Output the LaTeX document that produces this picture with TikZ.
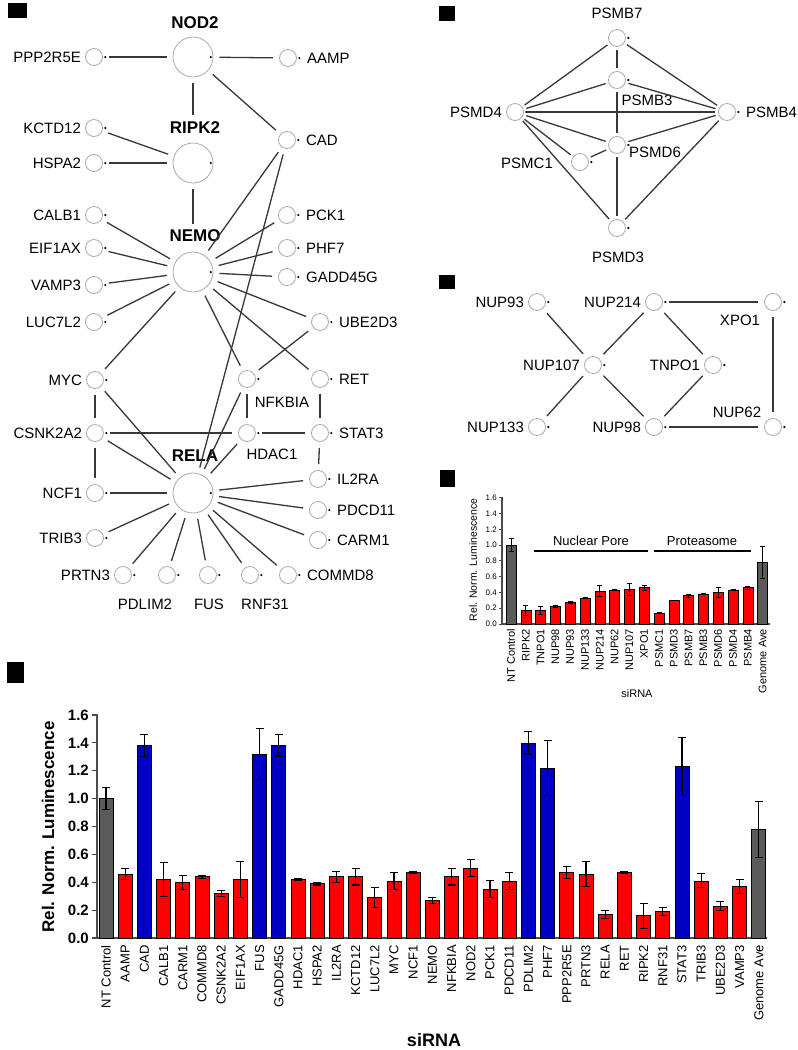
\documentclass[tikz,border=0pt]{standalone}
\usepackage{fontspec}
\setmainfont{Liberation Sans}
\usetikzlibrary{positioning,calc}
\definecolor{ring-gray}{HTML}{ABABAB}
\definecolor{edge-dark}{HTML}{383838}
\definecolor{bar-red}{HTML}{FF0000}
\definecolor{bar-blue}{HTML}{0000C4}
\definecolor{bar-gray}{HTML}{5A5A5A}
\tikzset{
  dot-mark/.style={circle, fill=black, inner sep=0pt, minimum size=2.4pt},
  hub-node/.style={circle, draw=ring-gray, line width=0.8pt, minimum size=40pt, inner sep=0pt,
    label={[dot-mark, label distance=-4pt]east:}},
  gene-node/.style={circle, draw=ring-gray, line width=0.8pt, minimum size=17pt, inner sep=0pt,
    label={[dot-mark, label distance=1pt]east:}},
  gene-label/.style={font=\fontsize{15}{15}\selectfont, inner sep=1pt},
  hub-label/.style={font=\fontsize{17}{17}\selectfont\bfseries, inner sep=1pt},
  tag-left/.style={label={[gene-label, label distance=3pt]left:#1}},
  tag-right/.style={label={[gene-label, label distance=9pt]right:#1}},
  ppi-edge/.style={draw=edge-dark, line width=1.3pt, shorten <=6pt, shorten >=6pt},
  panel-mark/.style={fill=black},
  bar/.style={draw=black, line width=0.7pt},
  err-bar/.style={draw=black, line width=1.1pt},
  axis-line/.style={draw=black!70, line width=1.2pt},
  tick-big/.style={font=\fontsize{15}{15}\selectfont\bfseries, anchor=east, inner sep=1pt},
  bar-tag/.style={font=\fontsize{13}{13}\selectfont, rotate=90, anchor=east, inner sep=1pt},
  tick-small/.style={font=\fontsize{8}{8}\selectfont, anchor=east, inner sep=1pt},
  bar-tag-small/.style={font=\fontsize{11}{11}\selectfont, rotate=90, anchor=east, inner sep=1pt},
  group-line/.style={draw=black, line width=1.3pt}
}
\begin{document}
\begin{tikzpicture}[x=1pt, y=-1pt]
  \fill[white] (0,0) rectangle (798,1050);
  \useasboundingbox (0,0) rectangle (798,1050);

  % panel marks
  \fill[panel-mark] (8,3) rectangle (27,18);
  \fill[panel-mark] (439,6) rectangle (455,21);
  \fill[panel-mark] (439,275) rectangle (455,289);
  \fill[panel-mark] (440,470) rectangle (455,487);
  \fill[panel-mark] (7,662) rectangle (24,683);

  % NOD2 / NEMO / RELA network
  \node[hub-node] (NOD2) at (193,57) {};
  \node[hub-label] (NOD2-t) at (195,23) {NOD2};
  \node[gene-node, tag-left=PPP2R5E] (PPP2R5E) at (94,57) {};
  \node[gene-node, tag-right=AAMP] (AAMP) at (288,58) {};

  \node[hub-node] (RIPK2) at (193,163) {};
  \node[hub-label] (RIPK2-t) at (195,128) {RIPK2};
  \node[gene-node, tag-left=KCTD12] (KCTD12) at (94,128) {};
  \node[gene-node, tag-left=HSPA2] (HSPA2) at (94,163) {};
  \node[gene-node, tag-right=CAD] (CAD) at (287,140) {};

  \node[hub-node] (NEMO) at (193,272) {};
  \node[hub-label] (NEMO-t) at (195,236) {NEMO};
  \node[gene-node, tag-left=CALB1] (CALB1) at (94,215) {};
  \node[gene-node, tag-left=EIF1AX] (EIF1AX) at (94,248) {};
  \node[gene-node, tag-left=VAMP3] (VAMP3) at (94,285) {};
  \node[gene-node, tag-left=LUC7L2] (LUC7L2) at (94,322) {};
  \node[gene-node, tag-right=PCK1] (PCK1) at (287,215) {};
  \node[gene-node, tag-right=PHF7] (PHF7) at (287,248) {};
  \node[gene-node, tag-right=GADD45G] (GADD45G) at (287,277) {};
  \node[gene-node, tag-right=UBE2D3] (UBE2D3) at (320,322) {};

  \node[gene-node, tag-left=MYC] (MYC) at (95,380) {};
  \node[gene-node] (NFKBIA) at (247,379) {};
  \node[gene-label] (NFKBIA-t) at (282,402) {NFKBIA};
  \node[gene-node, tag-right=RET] (RET) at (320,379) {};
  \node[gene-node, tag-left=CSNK2A2] (CSNK2A2) at (95,433) {};
  \node[gene-node] (HDAC1) at (247,433) {};
  \node[gene-label] (HDAC1-t) at (272,454) {HDAC1};
  \node[gene-node, tag-right=STAT3] (STAT3) at (320,433) {};

  \node[hub-node] (RELA) at (193,493) {};
  \node[hub-label] (RELA-t) at (195,456) {RELA};
  \node[gene-node, tag-left=NCF1] (NCF1) at (95,493) {};
  \node[gene-node, tag-right=IL2RA] (IL2RA) at (318,479) {};
  \node[gene-node, tag-right=PDCD11] (PDCD11) at (318,510) {};
  \node[gene-node, tag-left=TRIB3] (TRIB3) at (95,538) {};
  \node[gene-node, tag-right=CARM1] (CARM1) at (318,540) {};
  \node[gene-node, tag-left=PRTN3] (PRTN3) at (123,575) {};
  \node[gene-node] (PDLIM2) at (167,575) {};
  \node[gene-label] (PDLIM2-t) at (145,604) {PDLIM2};
  \node[gene-node] (FUS) at (208,575) {};
  \node[gene-label] (FUS-t) at (209,604) {FUS};
  \node[gene-node] (RNF31) at (250,575) {};
  \node[gene-label] (RNF31-t) at (265,604) {RNF31};
  \node[gene-node, tag-right=COMMD8] (COMMD8) at (288,575) {};

  \draw[ppi-edge, shorten >=28pt] (NOD2) -- (RIPK2);
  \draw[ppi-edge, shorten >=28pt] (RIPK2) -- (NEMO);
  \foreach \a/\b in {PPP2R5E/NOD2, NOD2/AAMP, NOD2/CAD, KCTD12/RIPK2, HSPA2/RIPK2,
      CAD/NEMO, CAD/RELA, CALB1/NEMO, EIF1AX/NEMO, VAMP3/NEMO, LUC7L2/NEMO, MYC/NEMO,
      NEMO/PCK1, NEMO/PHF7, NEMO/GADD45G, NEMO/UBE2D3, NEMO/NFKBIA, NEMO/RET,
      NFKBIA/UBE2D3, NFKBIA/RELA, MYC/CSNK2A2, MYC/RELA, CSNK2A2/HDAC1, HDAC1/STAT3,
      NFKBIA/HDAC1, RET/STAT3, STAT3/IL2RA, CSNK2A2/NCF1, CSNK2A2/RELA, HDAC1/RELA,
      NCF1/RELA, RELA/IL2RA, RELA/PDCD11, RELA/CARM1, RELA/TRIB3, RELA/PRTN3,
      RELA/PDLIM2, RELA/FUS, RELA/RNF31, RELA/COMMD8}
    \draw[ppi-edge] (\a) -- (\b);

  % proteasome network
  \node[gene-node] (PSMB7) at (617,38) {};
  \node[gene-label] (PSMB7-t) at (617,13) {PSMB7};
  \node[gene-node] (PSMB3) at (617,80) {};
  \node[gene-label] (PSMB3-t) at (647,100) {PSMB3};
  \node[gene-node, tag-left=PSMD4] (PSMD4) at (515,112) {};
  \node[gene-node, tag-right=PSMB4] (PSMB4) at (727,112) {};
  \node[gene-node] (PSMD6) at (617,145) {};
  \node[gene-label] (PSMD6-t) at (655,152) {PSMD6};
  \node[gene-node] (PSMC1) at (580,162) {};
  \node[gene-label] (PSMC1-t) at (527,163) {PSMC1};
  \node[gene-node] (PSMD3) at (617,228) {};
  \node[gene-label] (PSMD3-t) at (618,257) {PSMD3};

  \foreach \a/\b in {PSMD4/PSMB7, PSMB7/PSMB4, PSMB7/PSMB3, PSMD4/PSMB3, PSMB3/PSMB4,
      PSMD4/PSMB4, PSMD4/PSMD6, PSMD6/PSMB4, PSMD4/PSMC1, PSMC1/PSMD6, PSMD4/PSMD3,
      PSMD3/PSMB4, PSMD6/PSMD3, PSMB3/PSMD6}
    \draw[ppi-edge, shorten <=3pt, shorten >=3pt] (\a) -- (\b);

  % nuclear pore network
  \node[gene-node, tag-left=NUP93] (NUP93) at (537,302) {};
  \node[gene-node, tag-left=NUP214] (NUP214) at (654,302) {};
  \node[gene-node] (XPO1) at (773,302) {};
  \node[gene-label] (XPO1-t) at (740,320) {XPO1};
  \node[gene-node, tag-left=NUP107] (NUP107) at (593,365) {};
  \node[gene-node, tag-left=TNPO1] (TNPO1) at (713,365) {};
  \node[gene-node, tag-left=NUP133] (NUP133) at (537,427) {};
  \node[gene-node, tag-left=NUP98] (NUP98) at (654,427) {};
  \node[gene-node] (NUP62) at (773,427) {};
  \node[gene-label] (NUP62-t) at (737,412) {NUP62};

  \foreach \a/\b in {NUP93/NUP107, NUP214/NUP107, NUP214/TNPO1, NUP214/XPO1, XPO1/NUP62,
      NUP107/NUP133, NUP107/NUP98, TNPO1/NUP98, NUP98/NUP62}
    \draw[ppi-edge] (\a) -- (\b);

  % small bar chart
  \draw[axis-line] (502,624) -- (502,497) (502,624) -- (770,624);
  \foreach \tk [count=\k] in {0.0,0.2,0.4,0.6,0.8,1.0,1.2,1.4,1.6}{
    \pgfmathsetmacro\ty{624-79*\tk}
    \draw[axis-line, line width=0.8pt] (499,\ty) -- (502,\ty);
    \node[tick-small] (st-\k) at (498,\ty) {\tk};
  }
  \foreach \lbl/\val/\err/\col [count=\i from 0] in {NT Control/1.00/0.08/bar-gray,
      RIPK2/0.17/0.06/bar-red, TNPO1/0.17/0.05/bar-red, NUP98/0.22/0.01/bar-red,
      NUP93/0.27/0.01/bar-red, NUP133/0.33/0.01/bar-red, NUP214/0.42/0.07/bar-red,
      NUP62/0.43/0.01/bar-red, NUP107/0.44/0.08/bar-red, XPO1/0.46/0.03/bar-red,
      PSMC1/0.14/0.01/bar-red, PSMD3/0.30/0.00/bar-red, PSMB7/0.36/0.02/bar-red,
      PSMB3/0.38/0.01/bar-red, PSMD6/0.40/0.06/bar-red, PSMD4/0.43/0.01/bar-red,
      PSMB4/0.46/0.02/bar-red, Genome Ave/0.78/0.20/bar-gray}{
    \pgfmathsetmacro\bx{511+14.8*\i}
    \pgfmathsetmacro\by{624-79*\val}
    \pgfmathsetmacro\eu{624-79*(\val+\err)}
    \pgfmathsetmacro\ed{624-79*(\val-\err)}
    \draw[bar, line width=0.5pt, fill=\col] (\bx-5,624) rectangle (\bx+5,\by);
    \draw[err-bar, line width=0.8pt] (\bx,\eu) -- (\bx,\ed) (\bx-2.5,\eu) -- (\bx+2.5,\eu)
      (\bx-2.5,\ed) -- (\bx+2.5,\ed);
    \node[bar-tag-small] (sb-\i) at (\bx,628) {\lbl};
  }
  \draw[group-line] (534,551) -- (648,551);
  \node[font=\fontsize{13}{13}\selectfont] (pore-t) at (591,541) {Nuclear Pore};
  \draw[group-line] (654,551) -- (751,551);
  \node[font=\fontsize{13}{13}\selectfont] (prot-t) at (702,541) {Proteasome};
  \node[font=\fontsize{10.5}{10.5}\selectfont, rotate=90] (small-ylab) at (473,560) {Rel. Norm. Luminescence};
  \node[font=\fontsize{11}{11}\selectfont] (small-xlab) at (637,694) {siRNA};

  % large bar chart
  \draw[axis-line] (97,938) -- (97,714) (97,938) -- (767,938);
  \foreach \tk [count=\k] in {0.0,0.2,0.4,0.6,0.8,1.0,1.2,1.4,1.6}{
    \pgfmathsetmacro\ty{938-139.4*\tk}
    \draw[axis-line] (92,\ty) -- (97,\ty);
    \node[tick-big] (bt-\k) at (90,\ty) {\tk};
  }
  \foreach \lbl/\val/\err/\col [count=\i from 0] in {NT Control/1.00/0.08/bar-gray,
      AAMP/0.46/0.04/bar-red, CAD/1.38/0.08/bar-blue, CALB1/0.42/0.12/bar-red,
      CARM1/0.40/0.05/bar-red, COMMD8/0.44/0.01/bar-red, CSNK2A2/0.32/0.02/bar-red,
      EIF1AX/0.42/0.13/bar-red, FUS/1.32/0.18/bar-blue, GADD45G/1.38/0.08/bar-blue,
      HDAC1/0.42/0.01/bar-red, HSPA2/0.39/0.01/bar-red, IL2RA/0.44/0.04/bar-red,
      KCTD12/0.44/0.06/bar-red, LUC7L2/0.29/0.07/bar-red, MYC/0.41/0.06/bar-red,
      NCF1/0.47/0.01/bar-red, NEMO/0.27/0.02/bar-red, NFKBIA/0.44/0.06/bar-red,
      NOD2/0.50/0.06/bar-red, PCK1/0.35/0.06/bar-red, PDCD11/0.41/0.06/bar-red,
      PDLIM2/1.40/0.08/bar-blue, PHF7/1.22/0.20/bar-blue, PPP2R5E/0.47/0.04/bar-red,
      PRTN3/0.46/0.09/bar-red, RELA/0.17/0.03/bar-red, RET/0.47/0.01/bar-red,
      RIPK2/0.16/0.09/bar-red, RNF31/0.19/0.03/bar-red, STAT3/1.23/0.21/bar-blue,
      TRIB3/0.41/0.05/bar-red, UBE2D3/0.23/0.03/bar-red, VAMP3/0.37/0.05/bar-red,
      Genome Ave/0.78/0.20/bar-gray}{
    \pgfmathsetmacro\bx{106+19.2*\i}
    \pgfmathsetmacro\by{938-139.4*\val}
    \pgfmathsetmacro\eu{938-139.4*(\val+\err)}
    \pgfmathsetmacro\ed{938-139.4*(\val-\err)}
    \draw[bar, fill=\col] (\bx-7,938) rectangle (\bx+7,\by);
    \draw[err-bar] (\bx,\eu) -- (\bx,\ed) (\bx-4,\eu) -- (\bx+4,\eu) (\bx-4,\ed) -- (\bx+4,\ed);
    \node[bar-tag] (bb-\i) at (\bx,944) {\lbl};
  }
  \node[font=\fontsize{17}{17}\selectfont\bfseries, rotate=90] (big-ylab) at (48,827) {Rel. Norm. Luminescence};
  \node[font=\fontsize{18}{18}\selectfont\bfseries] (big-xlab) at (434,1040) {siRNA};
\end{tikzpicture}
\end{document}
